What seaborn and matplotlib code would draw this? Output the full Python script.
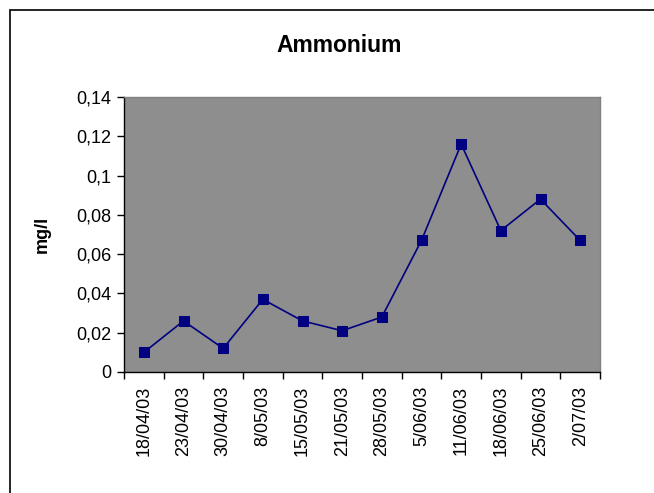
import numpy as np
import pandas as pd
import seaborn as sns
import matplotlib
matplotlib.use("Agg")
import matplotlib.pyplot as plt
from matplotlib.ticker import FuncFormatter, FixedLocator
from matplotlib.patches import Rectangle

# Datos
fechas = ["18/04/03", "23/04/03", "30/04/03", "8/05/03", "15/05/03", "21/05/03",
          "28/05/03", "5/06/03", "11/06/03", "18/06/03", "25/06/03", "2/07/03"]
amonio = [0.010, 0.026, 0.012, 0.037, 0.026, 0.021, 0.028, 0.067, 0.116, 0.072, 0.088, 0.067]
y_ticks = [0, 0.02, 0.04, 0.06, 0.08, 0.10, 0.12, 0.14]

df = pd.DataFrame({"fecha": fechas, "amonio": amonio})

sns.set_style("white")
plt.rcParams["font.family"] = ["Liberation Sans", "DejaVu Sans"]
plt.rcParams["text.color"] = "black"
plt.rcParams["axes.labelcolor"] = "black"
plt.rcParams["xtick.color"] = "black"
plt.rcParams["ytick.color"] = "black"

fig = plt.figure(figsize=(6.54, 4.93), dpi=100)
ax = fig.add_axes([124 / 654, 1 - 372 / 493, 476 / 654, 275 / 493])

sns.lineplot(data=df, x="fecha", y="amonio", marker="s", color="#000080",
             markersize=6.5, markeredgecolor="#000080", linewidth=1.2, ax=ax)

ax.set_facecolor("#8E8E8E")
ax.set_xlim(-0.5, len(fechas) - 0.5)
ax.set_ylim(0, 0.14)
ax.set_yticks(y_ticks)
ax.yaxis.set_major_formatter(FuncFormatter(lambda v, p: f"{v:g}".replace(".", ",")))

# marcas del eje x entre categorias, etiquetas centradas
ax.xaxis.set_major_locator(FixedLocator(np.arange(-0.5, len(fechas), 1.0)))
ax.xaxis.set_minor_locator(FixedLocator(np.arange(len(fechas))))
ax.set_xticklabels([""] * (len(fechas) + 1))
ax.set_xticklabels(fechas, minor=True, rotation=90)
ax.tick_params(axis="x", which="minor", length=0, pad=10, labelsize=13)
ax.tick_params(axis="x", which="major", length=5, width=1, color="black", direction="out", bottom=True)
ax.tick_params(axis="y", length=5, width=1, color="black", direction="out", left=True, labelsize=13, pad=4)

for s in ["top", "right"]:
    ax.spines[s].set_color("#808080")
    ax.spines[s].set_linewidth(1)
for s in ["left", "bottom"]:
    ax.spines[s].set_color("black")
    ax.spines[s].set_linewidth(1)

ax.set_xlabel("")
ax.set_ylabel("mg/l", fontsize=13, fontweight="bold")
ax.yaxis.set_label_coords((51 - 124) / 476, 0.5)
fig.text(339 / 654, 1 - 45 / 493, "Ammonium", ha="center", va="center",
         fontsize=16.5, fontweight="bold")

# borde del area del grafico
fig.patches.append(Rectangle((9.5 / 654, -0.1), 1.2, 1 - 10.5 / 493 + 0.1,
                             transform=fig.transFigure, fill=False,
                             edgecolor="black", linewidth=1.2))

fig.savefig("out.png", dpi=100)
